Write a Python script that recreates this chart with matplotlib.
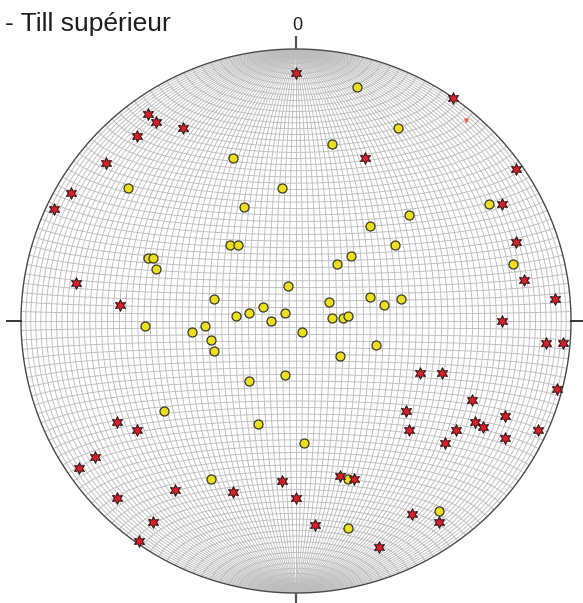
import numpy as np
import matplotlib
matplotlib.use("Agg")
import matplotlib.pyplot as plt
from matplotlib.collections import LineCollection

# ---- data: projected positions on the equal-area net (unit radius) ----
red_x = [0.00, 0.57, -0.54, -0.51, -0.58, -0.41, -0.69, -0.82, -0.88, -0.80,
         -0.64, 0.25, 0.80, 0.75, 0.80, 0.83, 0.94, 0.75, 0.91, 0.97,
         0.45, 0.53, 0.95, 0.64, 0.40, 0.76, 0.65, 0.68, 0.58, 0.41,
         0.88, 0.76, 0.54, 0.16, 0.21, 0.00, 0.07, 0.42, 0.52, 0.30,
         -0.65, -0.58, -0.73, -0.79, -0.44, -0.23, -0.65, -0.05, -0.52, -0.57]
red_y = [0.91, 0.82, 0.76, 0.73, 0.68, 0.71, 0.58, 0.47, 0.41, 0.14,
         0.06, 0.60, 0.56, 0.43, 0.29, 0.15, 0.08, 0.00, -0.08, -0.08,
         -0.19, -0.19, -0.25, -0.29, -0.33, -0.35, -0.37, -0.39, -0.40, -0.40,
         -0.40, -0.43, -0.45, -0.57, -0.58, -0.65, -0.75, -0.71, -0.74, -0.83,
         -0.37, -0.40, -0.50, -0.54, -0.62, -0.63, -0.65, -0.59, -0.74, -0.81]

yel_x = [0.22, 0.37, 0.13, -0.23, -0.61, -0.05, -0.19, 0.70, 0.41, 0.27,
         -0.24, -0.21, 0.36, -0.54, -0.52, -0.51, 0.20, 0.15, 0.79, -0.03,
         -0.30, 0.27, 0.12, 0.32, 0.38, -0.12, -0.17, -0.22, -0.04, -0.09,
         0.13, 0.17, 0.19, -0.55, -0.38, -0.33, -0.31, -0.30, 0.02, 0.29,
         0.16, -0.17, -0.04, -0.48, -0.14, 0.03, -0.31, 0.19, 0.52, 0.19]
yel_y = [0.86, 0.71, 0.65, 0.60, 0.49, 0.49, 0.42, 0.43, 0.39, 0.35,
         0.28, 0.28, 0.28, 0.23, 0.23, 0.19, 0.24, 0.21, 0.21, 0.13,
         0.08, 0.09, 0.07, 0.06, 0.08, 0.05, 0.03, 0.02, 0.03, 0.00,
         0.01, 0.01, 0.02, -0.02, -0.04, -0.02, -0.07, -0.11, -0.04, -0.09,
         -0.13, -0.22, -0.20, -0.33, -0.38, -0.45, -0.58, -0.58, -0.70, -0.76]

extra_x = [0.62]
extra_y = [0.735]

title = "- Till supérieur"
north_label = "0"
grid_step_deg = 2

# ---- figure ----
fig = plt.figure(figsize=(5.83, 6.03), dpi=100)
W, H = 583, 603
cx, cy, rx, ry = 296, 321, 275, 272
ax = fig.add_axes([(cx - rx) / W, (H - cy - ry) / H, 2 * rx / W, 2 * ry / H])
ax.set_xlim(-1, 1)
ax.set_ylim(-1, 1)
ax.set_aspect("auto")
ax.axis("off")

# Schmidt (equal-area) net, lower hemisphere; x=E, y=N, z=down
def proj(v):
    x, y, z = v
    s = np.sqrt(1 + z)
    return x / s, y / s

t = np.linspace(0, np.pi, 361)
segs = []
for d in np.arange(grid_step_deg, 180, grid_step_deg):
    dr = np.radians(d)
    v = (np.sin(t) * np.cos(dr), np.cos(t), np.sin(t) * np.sin(dr))
    X, Y = proj(v)
    segs.append(np.column_stack([X, Y]))
for b in np.arange(grid_step_deg, 180, grid_step_deg):
    c = np.cos(np.radians(b))
    s = np.sqrt(1 - c * c)
    v = (s * np.cos(t), np.full_like(t, c), s * np.sin(t))
    X, Y = proj(v)
    segs.append(np.column_stack([X, Y]))
lc = LineCollection(segs, colors="#bdbdbd", linewidths=0.65, zorder=1)
ax.add_collection(lc)

# primitive circle
th = np.linspace(0, 2 * np.pi, 721)
ax.plot(np.cos(th), np.sin(th), color="#4a4a4a", lw=1.0, zorder=2, clip_on=False)

# cardinal ticks
tk = dict(color="#555555", lw=1.6, clip_on=False, zorder=2, solid_capstyle="butt")
ax.plot([0, 0], [1, 1 + 13 / ry], **tk)
ax.plot([0, 0], [-1, -1 - 12 / ry], **tk)
ax.plot([-1, -1 - 14 / rx], [0, 0], color="#333333", lw=1.4, clip_on=False, zorder=2)
ax.plot([1, 1 + 13 / rx], [0, 0], color="#333333", lw=1.4, clip_on=False, zorder=2)

# points
ax.scatter(yel_x, yel_y, s=42, marker="o", facecolor="#ecdf1c",
           edgecolor="#3a3a2a", linewidths=0.9, zorder=4, clip_on=False)
ax.scatter(red_x, red_y, s=70, marker=(6, 1, 0), facecolor="#d8202a",
           edgecolor="#2a1010", linewidths=0.7, zorder=5, clip_on=False)
ax.scatter(extra_x, extra_y, s=14, marker="v", facecolor="#f05a48",
           edgecolor="none", zorder=5)

# text
fig.text(5 / W, 1 - 31 / H, title, fontsize=19, family="Liberation Sans",
         color="#1e1e1e", ha="left", va="baseline")
fig.text(297 / W, 1 - 29.5 / H, north_label, fontsize=13, family="Liberation Sans",
         color="#1e1e1e", ha="center", va="baseline")

fig.savefig("out.png", dpi=100, facecolor="white")
